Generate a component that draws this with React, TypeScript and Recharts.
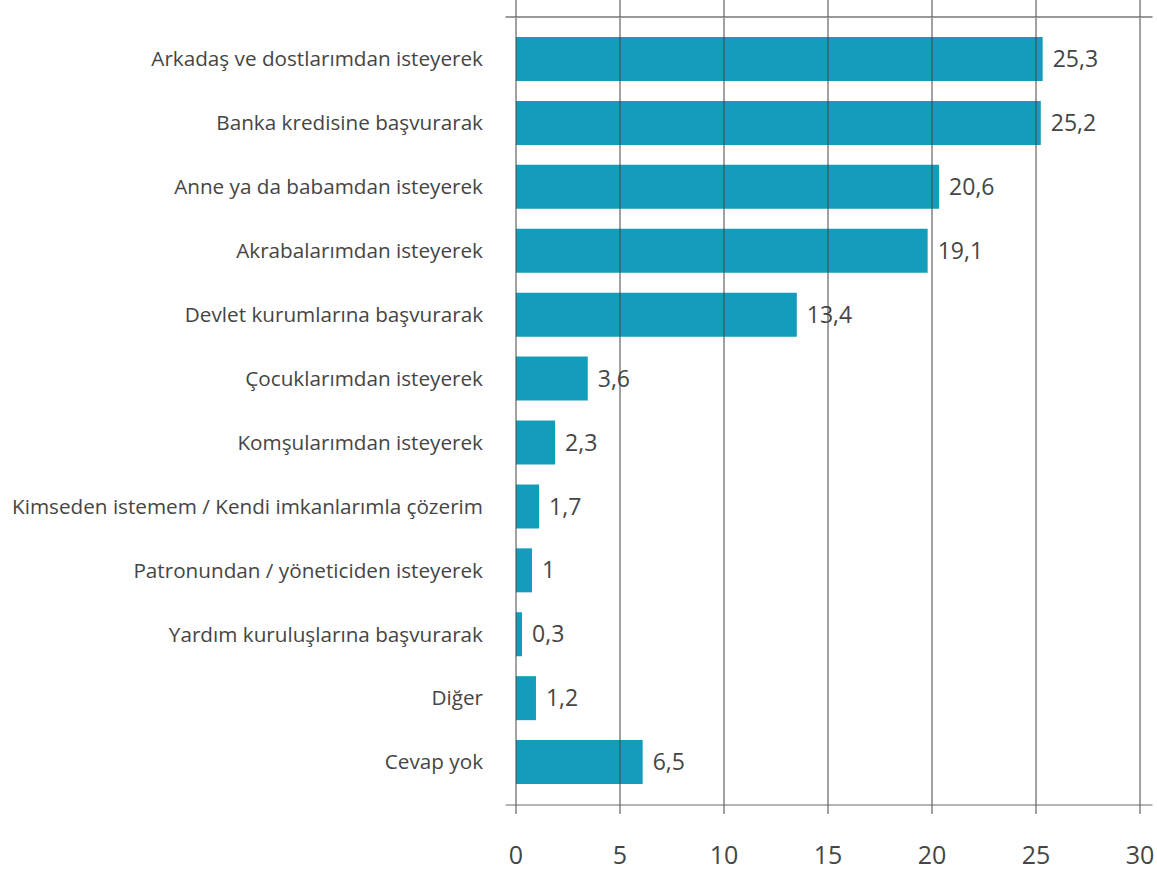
import { BarChart, Bar, XAxis, YAxis, ReferenceLine, LabelList } from "recharts";

// answer categories, top to bottom
const categories = [
  "Arkadaş ve dostlarımdan isteyerek",
  "Banka kredisine başvurarak",
  "Anne ya da babamdan isteyerek",
  "Akrabalarımdan isteyerek",
  "Devlet kurumlarına başvurarak",
  "Çocuklarımdan isteyerek",
  "Komşularımdan isteyerek",
  "Kimseden istemem / Kendi imkanlarımla çözerim",
  "Patronundan / yöneticiden isteyerek",
  "Yardım kuruluşlarına başvurarak",
  "Diğer",
  "Cevap yok",
];

// bar lengths as drawn in the picture
const barValues = [25.32, 25.23, 20.34, 19.79, 13.5, 3.45, 1.88, 1.11, 0.77, 0.29, 0.96, 6.09];

// printed value labels
const valueLabels = ["25,3", "25,2", "20,6", "19,1", "13,4", "3,6", "2,3", "1,7", "1", "0,3", "1,2", "6,5"];

const xTicks = [0, 5, 10, 15, 20, 25, 30];

const data = categories.map((name, i) => ({
  name,
  value: barValues[i],
  label: valueLabels[i],
}));

const FONT = "'Open Sans', sans-serif";
const TEXT = "#454545";
const GRID = "#454545";

export default function App() {
  return (
    <div style={{ position: "absolute", left: 0, top: 0, fontFamily: FONT }}>
      <BarChart
        width={1157}
        height={874}
        data={data}
        layout="vertical"
        margin={{ top: 0, right: 4.5, bottom: 0, left: 0 }}
      >
        {xTicks.map((t) => (
          <ReferenceLine key={t} x={t} stroke={GRID} strokeWidth={1} />
        ))}
        <XAxis
          type="number"
          domain={[-0.5, 30.6]}
          ticks={xTicks}
          height={69}
          allowDataOverflow
          axisLine={{ stroke: "#6a6a6a", strokeWidth: 1 }}
          tickLine={{ stroke: GRID }}
          tickSize={9}
          tickMargin={32}
          tick={{ fill: TEXT, fontSize: 25, fontFamily: FONT }}
          interval={0}
        />
        <XAxis
          xAxisId="top"
          orientation="top"
          type="number"
          domain={[-0.5, 30.6]}
          ticks={xTicks}
          height={17}
          allowDataOverflow
          axisLine={{ stroke: "#9a9a9a", strokeWidth: 2 }}
          tickLine={{ stroke: GRID }}
          tickSize={17}
          tick={() => <g />}
          interval={0}
        />
        <YAxis
          type="category"
          dataKey="name"
          width={505.6}
          padding={{ top: 10, bottom: 11 }}
          axisLine={false}
          tickLine={false}
          tickSize={0}
          tickMargin={22.6}
          interval={0}
          tick={{ fill: TEXT, fontSize: 20.7, fontFamily: FONT }}
        />
        <Bar dataKey="value" fill="#149cba" barSize={44} isAnimationActive={false}>
          <LabelList
            dataKey="label"
            position="right"
            offset={10}
            fill={TEXT}
            fontSize={23}
            fontFamily={FONT}
          />
        </Bar>
      </BarChart>
    </div>
  );
}
